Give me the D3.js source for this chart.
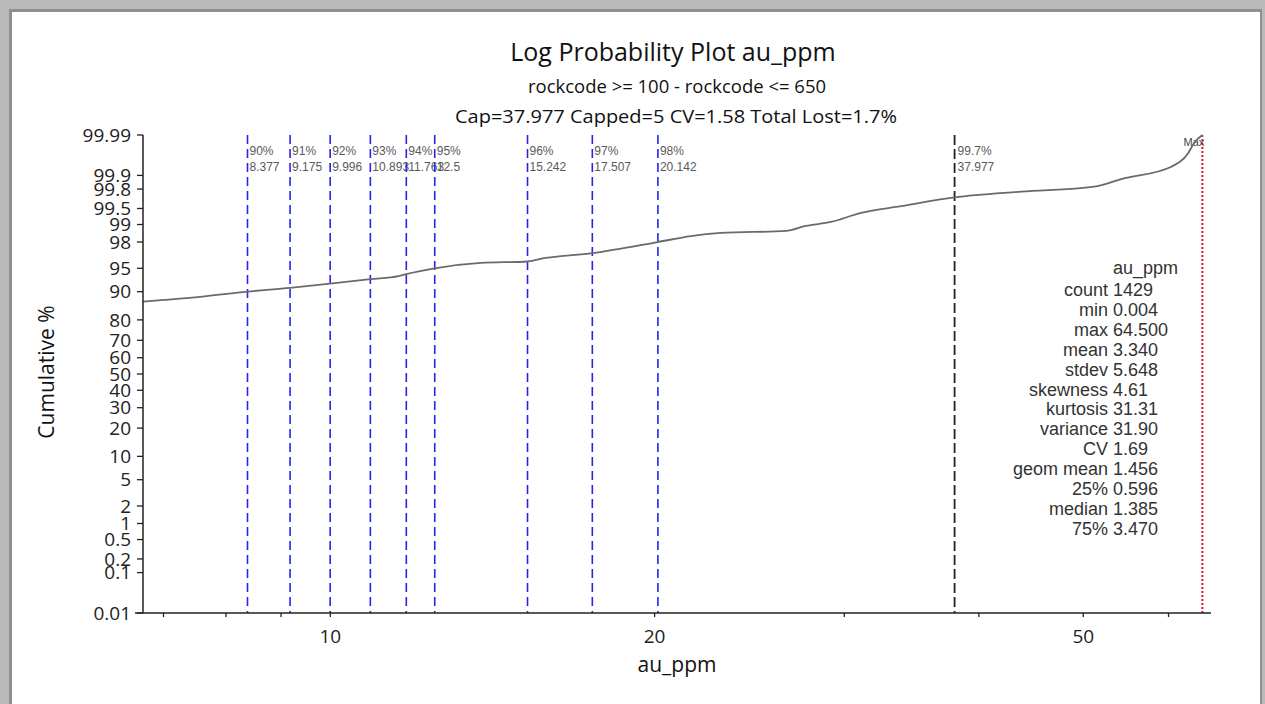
<!DOCTYPE html>
<html>
<head>
<meta charset="utf-8">
<script src="https://cdn.jsdelivr.net/npm/d3@7/dist/d3.min.js"></script>
<style>
  body { margin: 0; background: #fff; }
  svg { display: block; }
</style>
</head>
<body>
<div id="chart"></div>
<script>
// cumulative curve
const curveAu = [6.70, 7.57, 8.377, 9.175, 9.996, 10.893, 11.57, 11.763, 12.5, 13.79, 15.242, 15.84,
  17.507, 20.142, 21.61, 23.04, 26.48, 27.63, 29.15, 31.09, 33.86, 37.977, 43.78, 51.19, 54.24,
  60.36, 62.59, 63.39, 64.5];
const curvePct = [87.0, 88.5, 90, 91, 92, 93, 93.6, 94, 95, 95.8, 96, 96.45,
  97, 98, 98.41, 98.59, 98.70, 98.94, 99.10, 99.39, 99.55, 99.7, 99.772, 99.822, 99.879,
  99.937, 99.971, 99.984, 99.99];

// percentile markers
const pctLabels = ["90%", "91%", "92%", "93%", "94%", "95%", "96%", "97%", "98%"];
const pctValues = [8.377, 9.175, 9.996, 10.893, 11.763, 12.5, 15.242, 17.507, 20.142];
const capLabel = "99.7%";
const capValue = 37.977;
const maxValue = 64.5;

// summary table
const statNames = ["count", "min", "max", "mean", "stdev", "skewness", "kurtosis", "variance", "CV", "geom mean", "25%", "median", "75%"];
const statValues = ["1429", "0.004", "64.500", "3.340", "5.648", "4.61", "31.31", "31.90", "1.69", "1.456", "0.596", "1.385", "3.470"];

const yTicks = [99.99, 99.9, 99.8, 99.5, 99, 98, 95, 90, 80, 70, 60, 50, 40, 30, 20, 10, 5, 2, 1, 0.5, 0.2, 0.1, 0.01];
const xTicks = [7, 8, 9, 10, 20, 30, 40, 50, 60];
const xLabelTicks = [10, 20, 50];

// inverse normal cdf (Acklam)
function probit(p) {
  const a = [-3.969683028665376e+01, 2.209460984245205e+02, -2.759285104469687e+02, 1.383577518672690e+02, -3.066479806614716e+01, 2.506628277459239e+00];
  const b = [-5.447609879822406e+01, 1.615858368580409e+02, -1.556989798598866e+02, 6.680131188771972e+01, -1.328068155288572e+01];
  const c = [-7.784894002430293e-03, -3.223964580411365e-01, -2.400758277161838e+00, -2.549671010793570e+00, 4.374664141464968e+00, 2.938163982698783e+00];
  const d = [7.784695709041462e-03, 3.224671290700398e-01, 2.445134137142996e+00, 3.754408661907416e+00];
  const pl = 0.02425;
  let q, r;
  if (p < pl) {
    q = Math.sqrt(-2 * Math.log(p));
    return (((((c[0]*q+c[1])*q+c[2])*q+c[3])*q+c[4])*q+c[5]) / ((((d[0]*q+d[1])*q+d[2])*q+d[3])*q+1);
  } else if (p <= 1 - pl) {
    q = p - 0.5; r = q * q;
    return (((((a[0]*r+a[1])*r+a[2])*r+a[3])*r+a[4])*r+a[5])*q / (((((b[0]*r+b[1])*r+b[2])*r+b[3])*r+b[4])*r+1);
  }
  q = Math.sqrt(-2 * Math.log(1 - p));
  return -(((((c[0]*q+c[1])*q+c[2])*q+c[3])*q+c[4])*q+c[5]) / ((((d[0]*q+d[1])*q+d[2])*q+d[3])*q+1);
}

const W = 1265, H = 704;
const plot = { left: 143, right: 1211, top: 135, bottom: 613 };

const svg = d3.select("#chart").append("svg").attr("width", W).attr("height", H);

// window frame
svg.append("rect").attr("width", W).attr("height", H).attr("fill", "#b9b9b9");
svg.append("rect").attr("x", 9).attr("y", 9).attr("width", 1253).attr("height", H).attr("fill", "#8f8f8f");
svg.append("rect").attr("x", 12).attr("y", 12).attr("width", 1248).attr("height", H).attr("fill", "#fff");

const x = d3.scaleLog().domain([6.70, 65.7]).range([plot.left, plot.right]);
const zScale = d3.scaleLinear().domain([probit(0.0001), probit(0.9999)]).range([plot.bottom, plot.top]);
const y = (pct) => zScale(probit(pct / 100));

// titles
const titleFont = "'Open Sans', 'Segoe UI', sans-serif";
svg.append("text").attr("x", 673).attr("y", 61).attr("text-anchor", "middle")
  .style("font", "25px " + titleFont).attr("fill", "#111").text("Log Probability Plot au_ppm");
svg.append("text").attr("x", 677).attr("y", 93).attr("text-anchor", "middle")
  .style("font", "18px " + titleFont).attr("fill", "#111")
  .attr("textLength", 298).attr("lengthAdjust", "spacingAndGlyphs")
  .text("rockcode >= 100 - rockcode <= 650");
svg.append("text").attr("x", 676).attr("y", 123).attr("text-anchor", "middle")
  .style("font", "18px " + titleFont).attr("fill", "#111")
  .attr("textLength", 442).attr("lengthAdjust", "spacingAndGlyphs")
  .text("Cap=37.977 Capped=5 CV=1.58 Total Lost=1.7%");

// percentile lines
const labelFont = "12px 'Liberation Sans', Arial, sans-serif";
const markers = svg.append("g");
pctValues.forEach((v, i) => {
  markers.append("line")
    .attr("x1", x(v)).attr("x2", x(v)).attr("y1", plot.top).attr("y2", plot.bottom)
    .attr("stroke", "#2424ee").attr("stroke-width", 1.6).attr("stroke-dasharray", "9,5");
  markers.append("text").attr("x", x(v) + 2).attr("y", 155)
    .style("font", labelFont).attr("fill", "#5a5a5a").text(pctLabels[i]);
  markers.append("text").attr("x", x(v) + 2).attr("y", 171)
    .style("font", labelFont).attr("fill", "#5a5a5a").text(v.toFixed(3).replace(/\.?0+$/, ""));
});

markers.append("line")
  .attr("x1", x(capValue)).attr("x2", x(capValue)).attr("y1", plot.top).attr("y2", plot.bottom)
  .attr("stroke", "#222").attr("stroke-width", 1.8).attr("stroke-dasharray", "10,4");
markers.append("text").attr("x", x(capValue) + 3).attr("y", 155)
  .style("font", labelFont).attr("fill", "#5a5a5a").text(capLabel);
markers.append("text").attr("x", x(capValue) + 3).attr("y", 171)
  .style("font", labelFont).attr("fill", "#5a5a5a").text(capValue.toFixed(3));

markers.append("line")
  .attr("x1", x(maxValue)).attr("x2", x(maxValue)).attr("y1", plot.top).attr("y2", plot.bottom)
  .attr("stroke", "#e8102a").attr("stroke-width", 2).attr("stroke-dasharray", "2,2");
markers.append("text").attr("x", x(maxValue) + 2).attr("y", 146).attr("text-anchor", "end")
  .style("font", "11px 'Liberation Sans', Arial, sans-serif").attr("fill", "#444").text("Max");

// curve
const line = d3.line().x((d, i) => x(curveAu[i])).y((d, i) => y(curvePct[i])).curve(d3.curveMonotoneX);
svg.append("path").datum(curveAu).attr("d", line)
  .attr("fill", "none").attr("stroke", "#6a6a6a").attr("stroke-width", 1.8);

// axes
const tickFont = "19px " + titleFont;
const yAxis = svg.append("g").attr("transform", `translate(${plot.left},0)`);
yAxis.append("line").attr("x1", 0).attr("x2", 0).attr("y1", plot.top).attr("y2", plot.bottom)
  .attr("stroke", "#222").attr("stroke-width", 1.5);
yTicks.forEach(t => {
  yAxis.append("line").attr("x1", -6).attr("x2", 0).attr("y1", y(t)).attr("y2", y(t))
    .attr("stroke", "#222").attr("stroke-width", 1.3);
  yAxis.append("text").attr("x", -12).attr("y", y(t)).attr("dy", "0.35em").attr("text-anchor", "end")
    .style("font", tickFont).attr("fill", "#222").text(t);
});

const xAxis = svg.append("g").attr("transform", `translate(0,${plot.bottom})`);
xAxis.append("line").attr("x1", plot.left - 8).attr("x2", plot.right).attr("y1", 0).attr("y2", 0)
  .attr("stroke", "#222").attr("stroke-width", 1.5);
xTicks.forEach(t => {
  xAxis.append("line").attr("x1", x(t)).attr("x2", x(t)).attr("y1", 0).attr("y2", 4)
    .attr("stroke", "#222").attr("stroke-width", 1.3);
});
xLabelTicks.forEach(t => {
  xAxis.append("text").attr("x", x(t)).attr("y", 30).attr("text-anchor", "middle")
    .style("font", tickFont).attr("fill", "#222").text(t);
});

svg.append("text").attr("x", 677).attr("y", 672).attr("text-anchor", "middle")
  .style("font", "21px " + titleFont).attr("fill", "#111").text("au_ppm");
svg.append("text").attr("transform", `translate(54,372) rotate(-90)`).attr("text-anchor", "middle")
  .style("font", "21px " + titleFont).attr("fill", "#111").text("Cumulative %");

// stats table
const statFont = "18px 'Liberation Sans', Arial, sans-serif";
const stats = svg.append("g");
stats.append("text").attr("x", 1113).attr("y", 274).style("font", statFont).attr("fill", "#333").text("au_ppm");
statNames.forEach((n, i) => {
  const yy = 296 + i * 19.9;
  stats.append("text").attr("x", 1108).attr("y", yy).attr("text-anchor", "end")
    .style("font", statFont).attr("fill", "#333").text(n);
  stats.append("text").attr("x", 1113).attr("y", yy)
    .style("font", statFont).attr("fill", "#333").text(statValues[i]);
});
</script>
</body>
</html>
